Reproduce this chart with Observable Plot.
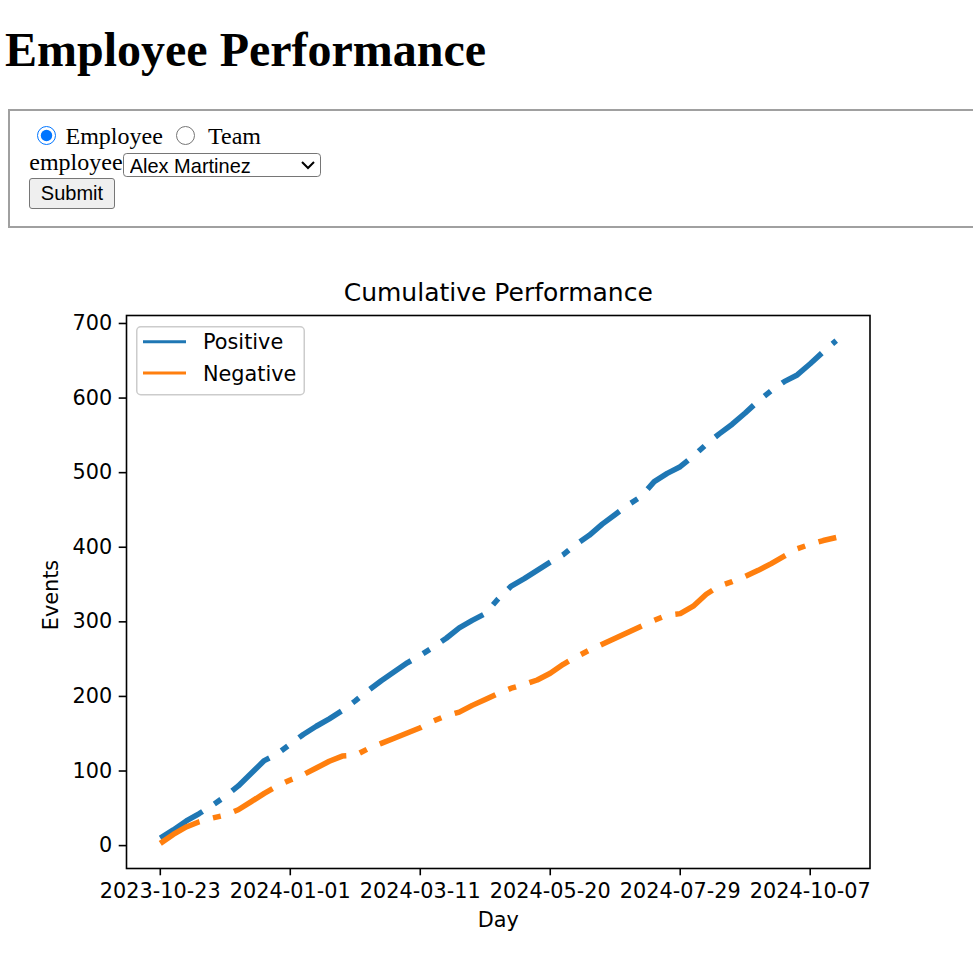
<!DOCTYPE html>
<html>
<head>
<meta charset="utf-8">
<script src="https://cdn.jsdelivr.net/npm/d3@7"></script>
<script src="https://cdn.jsdelivr.net/npm/@observablehq/plot@0.6"></script>
<style>
html,body{margin:0;padding:0;background:#fff;overflow:hidden;width:973px;height:957px}
h1{position:absolute;left:5px;top:22px;margin:0;font:bold 48px/55px "Liberation Serif","Times New Roman",serif;color:#000;white-space:nowrap}
fieldset{position:absolute;left:8px;top:109px;width:980px;height:119px;box-sizing:border-box;margin:0;padding:0;border:2px solid #a0a0a0}
.lbl{position:absolute;font:24px/28px "Liberation Serif","Times New Roman",serif;color:#000;white-space:nowrap}
input[type=radio]{position:absolute;margin:0;width:19px;height:19px}
select{position:absolute;zoom:1.5;left:75.13px;top:27.8px;width:132px;height:16.4px;box-sizing:border-box;font:13.333px "Liberation Sans",Arial,sans-serif;border:1px solid #767676;border-radius:2.5px;background:#fff;color:#000}
button{position:absolute;left:19.3px;top:67.3px;width:85.4px;height:31px;box-sizing:border-box;font:20px "Liberation Sans",Arial,sans-serif;border:1.5px solid #767676;border-radius:3px;background:#efefef;color:#000;padding:0}
#chart{position:absolute;left:3px;top:228px;width:960px;height:720px}
#legend{position:absolute;left:133px;top:98px}
</style>
</head>
<body>
<h1>Employee Performance</h1>
<fieldset>
  <input type="radio" name="kind" checked style="left:27px;top:14.5px">
  <span class="lbl" style="left:55.5px;top:10.9px">Employee</span>
  <input type="radio" name="kind" style="left:166px;top:14.5px">
  <span class="lbl" style="left:198px;top:10.9px">Team</span>
  <span class="lbl" style="left:19.3px;top:37.2px">employee</span>
  <select><option>Alex Martinez</option></select>
  <button type="button">Submit</button>
</fieldset>
<div id="chart"></div>
<script>
// ---- data ----
const dates = [
  "2023-10-23","2023-10-30","2023-11-06","2023-11-13","2023-11-20","2023-11-27",
  "2023-12-04","2023-12-11","2023-12-18","2023-12-25","2024-01-01","2024-01-08",
  "2024-01-15","2024-01-22","2024-01-29","2024-02-05","2024-02-12","2024-02-19",
  "2024-02-26","2024-03-04","2024-03-11","2024-03-18","2024-03-25","2024-04-01",
  "2024-04-08","2024-04-15","2024-04-22","2024-04-29","2024-05-06","2024-05-13",
  "2024-05-20","2024-05-27","2024-06-03","2024-06-10","2024-06-17","2024-06-24",
  "2024-07-01","2024-07-08","2024-07-15","2024-07-22","2024-07-29","2024-08-05",
  "2024-08-12","2024-08-19","2024-08-26","2024-09-02","2024-09-09","2024-09-16",
  "2024-09-23","2024-09-30","2024-10-07","2024-10-14","2024-10-21"
];
const positive = [
  10,21,33,43,54,66,80,97,114,123,136,149,
  160,170,181,194,208,221,233,245,255,266,278,292,
  302,311,331,348,358,369,380,390,404,416,431,444,
  457,468,488,499,508,522,538,552,565,580,596,610,
  622,631,646,662,677
];
const negative = [
  3,15,25,32,37,41,48,59,70,80,88,95,
  104,113,120,121,130,137,144,151,158,167,174,179,
  188,196,204,211,216,222,231,243,253,262,270,278,
  286,294,302,309,311,321,337,348,354,361,369,378,
  388,398,404,409,413
];
const seriesNames = ["Positive", "Negative"];
const seriesColors = ["#1f77b4", "#ff7f0e"];
const seriesDashes = ["50,14,8,14", "45,14,8,14"];
const xTickLabels = ["2023-10-23","2024-01-01","2024-03-11","2024-05-20","2024-07-29","2024-10-07"];
const yTickValues = [0,100,200,300,400,500,600,700];
const chartTitle = "Cumulative Performance";
const xLabel = "Day";
const yLabel = "Events";

// ---- build ----
const seriesValues = [positive, negative];
const tables = seriesValues.map((vals, s) =>
  dates.map((d, i) => ({date: new Date(d), value: vals[i], series: seriesNames[s]})));
const allDates = dates.map(d => new Date(d));
const [xa, xb] = d3.extent(allDates);
const xpad = (xb - xa) * 0.05;
const allVals = positive.concat(negative);
const [ya, yb] = d3.extent(allVals);
const ypad = (yb - ya) * 0.05;

const plot = Plot.plot({
  width: 960,
  height: 720,
  marginLeft: 123,
  marginRight: 93.5,
  marginTop: 87,
  marginBottom: 80,
  style: {fontFamily: "DejaVu Sans", fontSize: "20.8px", color: "#000", background: "transparent", overflow: "visible"},
  x: {type: "utc", domain: [new Date(+xa - xpad), new Date(+xb + xpad)], axis: null},
  y: {domain: [ya - ypad, yb + ypad], axis: null},
  marks: [
    ...tables.map((t, s) => Plot.line(t, {
      x: "date", y: "value",
      stroke: seriesColors[s], strokeWidth: 5.5,
      strokeDasharray: seriesDashes[s],
      strokeLinecap: "butt", strokeLinejoin: "round"
    })),
    Plot.frame({stroke: "#000", strokeWidth: 1.6}),
    Plot.axisX(xTickLabels.map(d => new Date(d)), {
      tickFormat: d3.utcFormat("%Y-%m-%d"), tickSize: 7.3, tickPadding: 7,
      strokeWidth: 1.6, label: null
    }),
    Plot.axisY(yTickValues, {tickSize: 7.3, tickPadding: 7, strokeWidth: 1.6, label: null}),
    Plot.text([chartTitle], {text: d => d, frameAnchor: "top", lineAnchor: "middle", textAnchor: "middle", dy: -23, fontSize: 25}),
    Plot.text([xLabel], {text: d => d, frameAnchor: "bottom", lineAnchor: "middle", textAnchor: "middle", dy: 52}),
    Plot.text([yLabel], {text: d => d, frameAnchor: "left", lineAnchor: "middle", textAnchor: "middle", rotate: -90, dx: -75, dy: 3})
  ]
});
const chart = document.getElementById("chart");
chart.appendChild(plot);

// legend (upper-left, inside axes)
const leg = d3.select(chart).append("svg").attr("id", "legend").attr("width", 170).attr("height", 71);
leg.append("rect").attr("x", 0.75).attr("y", 0.75).attr("width", 167.5).attr("height", 68)
  .attr("rx", 4).attr("fill", "#fff").attr("fill-opacity", 0.8).attr("stroke", "#cccccc").attr("stroke-width", 1.5);
seriesNames.forEach((name, i) => {
  const cy = 15.7 + i * 31.3;
  leg.append("line").attr("x1", 7).attr("x2", 50).attr("y1", cy).attr("y2", cy)
    .attr("stroke", seriesColors[i]).attr("stroke-width", 3);
  leg.append("text").attr("x", 67).attr("y", cy + 7.6)
    .attr("font-family", "DejaVu Sans").attr("font-size", "20.8px").attr("fill", "#000").text(name);
});
</script>
</body>
</html>
